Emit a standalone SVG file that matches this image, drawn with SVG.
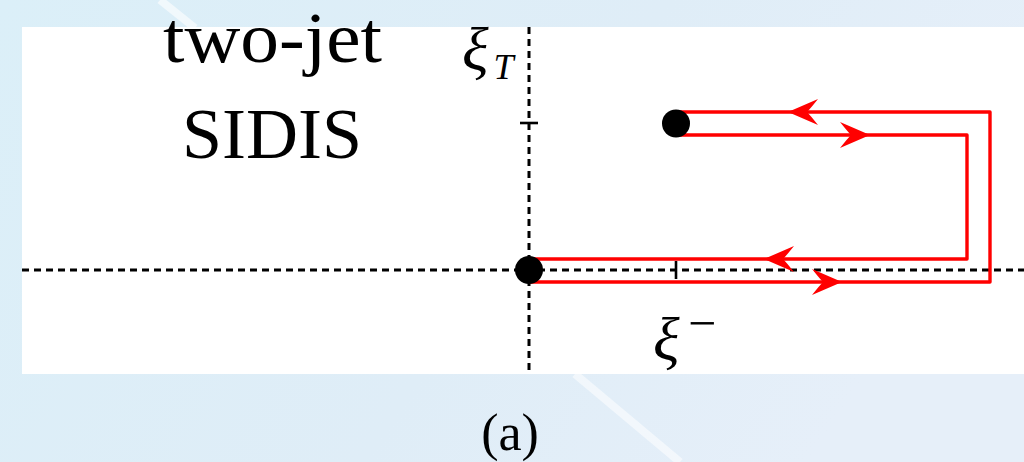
<svg xmlns="http://www.w3.org/2000/svg" width="1024" height="462" viewBox="0 0 1024 462">
  <style>
    .axis { stroke: #000; stroke-width: 3; stroke-dasharray: 7 5; fill: none; }
    .tick { stroke: #000; stroke-width: 2.6; }
    .wire { stroke: #ff0000; stroke-width: 3.4; fill: none; stroke-linejoin: round; }
    .head { fill: #ff0000; }
    .dot { fill: #000; }
    text { fill: #000; font-family: "Liberation Serif", serif; }
    .it { font-style: italic; }
  </style>
  <defs>
    <linearGradient id="bg" x1="0" y1="0" x2="1" y2="0.3">
      <stop offset="0" stop-color="#dbeff8"/>
      <stop offset="0.6" stop-color="#dfedf7"/>
      <stop offset="1" stop-color="#e6eff9"/>
    </linearGradient>
    <path id="ah" d="M0,0 L30,-13 Q22,-3 19,0 Q22,3 30,13 Z"/>
  </defs>

  <g id="background">
    <rect x="0" y="0" width="1024" height="462" fill="url(#bg)"/>
    <path d="M160,0 L195,28" stroke="#ffffff" stroke-opacity="0.6" stroke-width="8"/>
    <path d="M575,374 L680,462" stroke="#ffffff" stroke-opacity="0.55" stroke-width="8"/>
    <rect x="22" y="27" width="1002" height="347" fill="#ffffff"/>
  </g>

  <g id="axes">
    <line class="axis" x1="22" y1="270" x2="1024" y2="270"/>
    <line class="axis" x1="529" y1="27" x2="529" y2="374"/>
    <line class="tick" x1="520" y1="123" x2="538" y2="123"/>
    <line class="tick" x1="676" y1="261" x2="676" y2="279"/>
  </g>

  <g id="connectors">
    <path class="wire" d="M676,112 L990,112 L990,282 L529,282"/>
    <path class="wire" d="M676,135 L967,135 L967,259 L529,259"/>
    <use class="head" href="#ah" transform="translate(788,112)"/>
    <use class="head" href="#ah" transform="translate(870,135) scale(-1,1)"/>
    <use class="head" href="#ah" transform="translate(764,259)"/>
    <use class="head" href="#ah" transform="translate(842,282) scale(-1,1)"/>
  </g>

  <g id="node-endpoint">
    <circle class="dot" cx="676" cy="123.5" r="14"/>
  </g>
  <g id="node-origin">
    <circle class="dot" cx="529" cy="270" r="14"/>
  </g>

  <g id="labels">
    <text x="163" y="62" font-size="72" textLength="219" lengthAdjust="spacingAndGlyphs">two-jet</text>
    <text x="272" y="158" font-size="72" text-anchor="middle">SIDIS</text>
    <text class="it" x="462" y="70" font-size="62">ξ<tspan font-size="36" dx="5" dy="9">T</tspan></text>
    <text class="it" x="653" y="360" font-size="62">ξ</text>
    <text x="688" y="340" font-size="50">−</text>
    <text x="510" y="450" font-size="52" text-anchor="middle">(a)</text>
  </g>
</svg>
